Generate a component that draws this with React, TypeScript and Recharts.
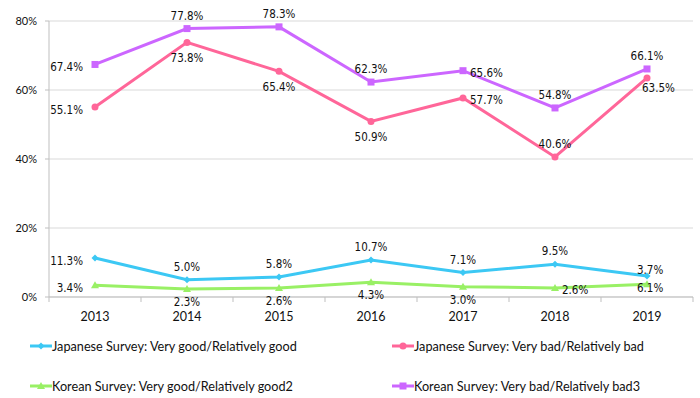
import React from 'react';
import { LineChart, Line, XAxis, YAxis, CartesianGrid, LabelList, Legend } from 'recharts';

const years = ['2013', '2014', '2015', '2016', '2017', '2018', '2019'];
const jpGood = [11.3, 5.0, 5.8, 10.7, 7.1, 9.5, 6.1];
const jpBad = [55.1, 73.8, 65.4, 50.9, 57.7, 40.6, 63.5];
const krGood = [3.4, 2.3, 2.6, 4.3, 3.0, 2.6, 3.7];
const krBad = [67.4, 77.8, 78.3, 62.3, 65.6, 54.8, 66.1];

const jpGoodLabels = ['11.3%', '5.0%', '5.8%', '10.7%', '7.1%', '9.5%', '3.7%'];
const jpBadLabels = ['55.1%', '73.8%', '65.4%', '50.9%', '57.7%', '40.6%', '63.5%'];
const krGoodLabels = ['3.4%', '2.3%', '2.6%', '4.3%', '3.0%', '2.6%', '6.1%'];
const krBadLabels = ['67.4%', '77.8%', '78.3%', '62.3%', '65.6%', '54.8%', '66.1%'];

const yTicks = [0, 20, 40, 60, 80];

const seriesNames = [
  'Japanese Survey: Very good/Relatively good',
  'Japanese Survey: Very bad/Relatively bad',
  'Korean Survey: Very good/Relatively good2',
  'Korean Survey: Very bad/Relatively bad3',
];

const data = years.map((year, i) => ({
  year,
  jpGood: jpGood[i],
  jpBad: jpBad[i],
  krGood: krGood[i],
  krBad: krBad[i],
}));

// label placement (style, not data)
const labelOffsets: Record<string, { dx: number; dy: number; anchor: string }> = {
  top: { dx: 0, dy: -9, anchor: 'middle' },
  bottom: { dx: 0, dy: 20, anchor: 'middle' },
  bottomLow: { dx: 0, dy: 17, anchor: 'middle' },
  left: { dx: -12, dy: 7, anchor: 'end' },
  right: { dx: 7, dy: 6, anchor: 'start' },
  br: { dx: -5, dy: 14, anchor: 'start' },
  tr: { dx: -10, dy: -2, anchor: 'start' },
  r2: { dx: -10, dy: 8, anchor: 'start' },
};
const jpGoodPos = ['left', 'top', 'top', 'top', 'top', 'top', 'tr'];
const jpBadPos = ['left', 'bottom', 'bottom', 'bottom', 'right', 'top', 'br'];
const krGoodPos = ['left', 'bottomLow', 'bottomLow', 'bottomLow', 'bottomLow', 'right', 'r2'];
const krBadPos = ['left', 'top', 'top', 'top', 'right', 'top', 'top'];

const COLORS = {
  jpGood: '#3CC8F4',
  jpBad: '#FF6699',
  krGood: '#99F065',
  krBad: '#CC66FF',
};

const LABEL_FONT = '"DejaVu Sans Condensed", "DejaVu Sans", sans-serif';
const AXIS_FONT = 'Lato, "Open Sans", sans-serif';

const makeLabel = (texts: string[], positions: string[]) => (props: any) => {
  const vb = props.viewBox || {};
  const x = props.x ?? vb.x;
  const y = props.y ?? vb.y;
  const index = props.index;
  if (x == null || y == null || index == null) return null;
  const o = labelOffsets[positions[index]] || labelOffsets.top;
  return (
    <text
      x={x + o.dx}
      y={y + o.dy}
      textAnchor={o.anchor as any}
      fontFamily={LABEL_FONT}
      fontSize={11.5}
      fill="#111"
    >
      {texts[index]}
    </text>
  );
};

const drawMarker = (shape: string, cx: number, cy: number, color: string, key?: any) => {
  if (shape === 'diamond') {
    return <path key={key} d={`M${cx},${cy - 3.5}L${cx + 3.5},${cy}L${cx},${cy + 3.5}L${cx - 3.5},${cy}Z`} fill={color} />;
  }
  if (shape === 'circle') {
    return <circle key={key} cx={cx} cy={cy} r={3.5} fill={color} />;
  }
  if (shape === 'triangle') {
    return <path key={key} d={`M${cx},${cy - 4}L${cx + 4},${cy + 3}L${cx - 4},${cy + 3}Z`} fill={color} />;
  }
  return <rect key={key} x={cx - 3.5} y={cy - 3.5} width={7} height={7} fill={color} />;
};

const makeDot = (shape: string, color: string) => (props: any) => {
  const { cx, cy, index } = props;
  if (cx == null || cy == null) return <g key={`d-${index}`} />;
  return drawMarker(shape, cx, cy, color, `d-${index}`);
};

const XTick = (props: any) => {
  const { x, y, payload, index, visibleTicksCount } = props;
  const half = payload.offset || 0;
  const axisY = y - 14;
  return (
    <g>
      <line x1={x - half} x2={x - half} y1={axisY} y2={axisY + 5} stroke="#BFBFBF" />
      {index === visibleTicksCount - 1 && (
        <line x1={x + half} x2={x + half} y1={axisY} y2={axisY + 5} stroke="#BFBFBF" />
      )}
      <text x={x} y={y + 10} textAnchor="middle" fontFamily={AXIS_FONT} fontSize={12.5} fill="#111">
        {payload.value}
      </text>
    </g>
  );
};

const legendItems = [
  { name: seriesNames[0], color: COLORS.jpGood, shape: 'diamond' },
  { name: seriesNames[1], color: COLORS.jpBad, shape: 'circle' },
  { name: seriesNames[2], color: COLORS.krGood, shape: 'triangle' },
  { name: seriesNames[3], color: COLORS.krBad, shape: 'square' },
];

const LegendContent = () => (
  <div style={{ position: 'relative', width: 700, height: 68 }}>
    {legendItems.map((it, i) => {
      const col = i % 2;
      const row = Math.floor(i / 2);
      const left = col === 0 ? 30 : 392;
      const top = row === 0 ? 6 : 46;
      return (
        <div
          key={it.name}
          style={{
            position: 'absolute',
            left,
            top,
            height: 20,
            display: 'flex',
            alignItems: 'center',
            whiteSpace: 'nowrap',
          }}
        >
          <svg width={22} height={20} style={{ display: 'block' }}>
            <line x1={0} x2={22} y1={10} y2={10} stroke={it.color} strokeWidth={3} />
            {drawMarker(it.shape, 11, 10, it.color)}
          </svg>
          <span style={{ fontFamily: AXIS_FONT, fontSize: 12.7, color: '#111', lineHeight: '20px' }}>{it.name}</span>
        </div>
      );
    })}
  </div>
);

export default function App() {
  return (
    <div style={{ position: 'absolute', left: 0, top: 0, width: 700, height: 398, background: '#fff' }}>
      <LineChart width={700} height={398} data={data} margin={{ top: 21, right: 7, bottom: 3, left: 0 }}>
        <CartesianGrid vertical={false} stroke="#D9D9D9" />
        <XAxis
          dataKey="year"
          scale="band"
          axisLine={{ stroke: '#BFBFBF' }}
          tickLine={false}
          tickSize={5}
          tickMargin={9}
          height={30}
          tick={<XTick />}
          interval={0}
        />
        <YAxis
          domain={[0, 80]}
          ticks={yTicks}
          width={49}
          axisLine={{ stroke: '#BFBFBF' }}
          tickLine={{ stroke: '#BFBFBF' }}
          tickSize={4}
          tickMargin={8}
          tickFormatter={(v: number) => `${v}%`}
          tick={{ fontFamily: AXIS_FONT, fontSize: 11, fill: '#111' }}
        />
        <Legend
          verticalAlign="bottom"
          height={68}
          content={<LegendContent />}
          wrapperStyle={{ left: 0, top: 330, width: 700, height: 68 }}
        />
        <Line
          name={seriesNames[0]}
          dataKey="jpGood"
          type="linear"
          stroke={COLORS.jpGood}
          strokeWidth={3}
          dot={makeDot('diamond', COLORS.jpGood)}
          activeDot={false}
          isAnimationActive={false}
        >
          <LabelList dataKey="jpGood" content={makeLabel(jpGoodLabels, jpGoodPos)} />
        </Line>
        <Line
          name={seriesNames[1]}
          dataKey="jpBad"
          type="linear"
          stroke={COLORS.jpBad}
          strokeWidth={3}
          dot={makeDot('circle', COLORS.jpBad)}
          activeDot={false}
          isAnimationActive={false}
        >
          <LabelList dataKey="jpBad" content={makeLabel(jpBadLabels, jpBadPos)} />
        </Line>
        <Line
          name={seriesNames[2]}
          dataKey="krGood"
          type="linear"
          stroke={COLORS.krGood}
          strokeWidth={3}
          dot={makeDot('triangle', COLORS.krGood)}
          activeDot={false}
          isAnimationActive={false}
        >
          <LabelList dataKey="krGood" content={makeLabel(krGoodLabels, krGoodPos)} />
        </Line>
        <Line
          name={seriesNames[3]}
          dataKey="krBad"
          type="linear"
          stroke={COLORS.krBad}
          strokeWidth={3}
          dot={makeDot('square', COLORS.krBad)}
          activeDot={false}
          isAnimationActive={false}
        >
          <LabelList dataKey="krBad" content={makeLabel(krBadLabels, krBadPos)} />
        </Line>
      </LineChart>
    </div>
  );
}
